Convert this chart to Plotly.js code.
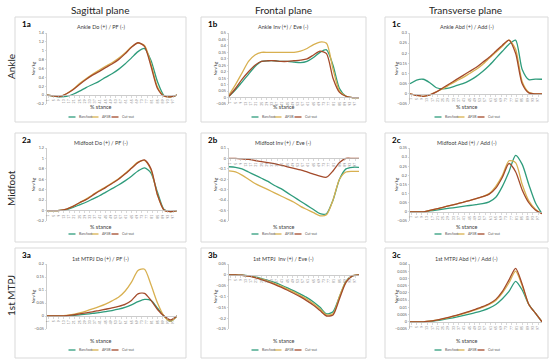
<!DOCTYPE html>
<html>
<head>
<meta charset="utf-8">
<script src="https://cdn.plot.ly/plotly-3.0.1.min.js"></script>
<style>html,body{margin:0;padding:0;background:#fff;}#chart{width:550px;height:362px;}</style>
</head>
<body>
<div id="chart"></div>
<script>
// ---------- DATA ----------
const stance = [0,5,10,15,20,25,30,35,40,45,50,55,60,65,70,75,80,85,90,95,100];
const seriesNames = ['Barefoot','AFSB','Cut-out'];
const seriesColors = ['#2f9c7c','#d8b050','#a34a2a'];
const xTickVals = [1,5,9,13,17,21,25,29,33,37,41,45,49,53,57,61,65,69,73,77,81,85,89,93,97];

// 1a Ankle Do (+) / PF (-)
const ankleSagBarefoot = [0,-0.02,-0.04,-0.03,0.02,0.09,0.17,0.24,0.31,0.4,0.48,0.58,0.7,0.84,0.98,1.05,0.78,0.3,-0.01,-0.04,0];
const ankleSagAFSB     = [0,-0.02,-0.03,0.03,0.13,0.26,0.37,0.47,0.56,0.65,0.73,0.83,0.95,1.09,1.17,1.12,0.7,0.18,-0.02,-0.04,0];
const ankleSagCutout   = [0,-0.02,-0.03,0.03,0.12,0.24,0.35,0.45,0.53,0.62,0.7,0.8,0.93,1.08,1.18,1.1,0.65,0.15,-0.02,-0.04,0];
// 1b Ankle Inv (+) / Eve (-)
const ankleFroBarefoot = [0.01,0.06,0.12,0.18,0.24,0.28,0.285,0.285,0.28,0.28,0.275,0.27,0.28,0.31,0.35,0.37,0.25,0.07,0.01,0,0];
const ankleFroAFSB     = [0.02,0.1,0.19,0.28,0.33,0.35,0.35,0.35,0.35,0.35,0.35,0.36,0.38,0.41,0.43,0.42,0.22,0.05,0.01,0,0];
const ankleFroCutout   = [0.01,0.07,0.14,0.2,0.25,0.28,0.285,0.285,0.28,0.28,0.285,0.29,0.3,0.33,0.36,0.34,0.15,0.04,0.01,0,0];
// 1c Ankle Abd (+) / Add (-)
const ankleTraBarefoot = [0.05,0.068,0.072,0.055,0.03,0.025,0.03,0.04,0.05,0.065,0.085,0.11,0.14,0.175,0.21,0.245,0.265,0.12,0.07,0.073,0.072];
const ankleTraAFSB     = [0,-0.008,-0.012,-0.005,0.01,0.025,0.045,0.063,0.08,0.1,0.12,0.145,0.175,0.205,0.235,0.265,0.22,0.06,0.008,0,0];
const ankleTraCutout   = [0,-0.008,-0.012,-0.005,0.01,0.03,0.05,0.07,0.09,0.11,0.13,0.155,0.18,0.21,0.24,0.265,0.2,0.05,0.005,0,0];
// 2a Midfoot Do (+) / PF (-)
const midSagBarefoot = [0,0,0.005,0.02,0.06,0.11,0.16,0.22,0.28,0.35,0.42,0.49,0.57,0.66,0.76,0.82,0.72,0.35,0.02,-0.02,0];
const midSagAFSB     = [0,0,0.005,0.03,0.08,0.15,0.22,0.3,0.38,0.45,0.53,0.61,0.71,0.82,0.93,0.96,0.78,0.3,0.01,-0.02,0];
const midSagCutout   = [0,0,0.005,0.03,0.08,0.15,0.21,0.29,0.37,0.44,0.52,0.6,0.7,0.81,0.92,0.97,0.8,0.3,0.01,-0.02,0];
// 2b Midfoot Inv (+) / Eve (-)
const midFroBarefoot = [-0.08,-0.085,-0.1,-0.13,-0.16,-0.19,-0.22,-0.26,-0.29,-0.33,-0.37,-0.41,-0.45,-0.49,-0.53,-0.53,-0.4,-0.2,-0.1,-0.085,-0.085];
const midFroAFSB     = [-0.12,-0.13,-0.16,-0.2,-0.24,-0.27,-0.3,-0.33,-0.36,-0.39,-0.42,-0.46,-0.49,-0.52,-0.55,-0.54,-0.4,-0.2,-0.13,-0.125,-0.125];
const midFroCutout   = [0,0,-0.005,-0.01,-0.02,-0.03,-0.04,-0.05,-0.065,-0.08,-0.095,-0.11,-0.13,-0.15,-0.17,-0.18,-0.12,-0.04,0,0,0];
// 2c Midfoot Abd (+) / Add (-)
const midTraBarefoot = [0,0,0,0.005,0.01,0.015,0.02,0.025,0.03,0.035,0.04,0.045,0.055,0.08,0.14,0.22,0.31,0.26,0.15,0.05,-0.01];
const midTraAFSB     = [0,0,0,0.008,0.016,0.025,0.034,0.043,0.052,0.062,0.072,0.083,0.1,0.14,0.2,0.28,0.27,0.15,0.06,0.015,-0.01];
const midTraCutout   = [0,0,0,0.008,0.016,0.025,0.034,0.043,0.052,0.062,0.072,0.083,0.097,0.13,0.19,0.265,0.22,0.12,0.05,0.01,-0.01];
// 3a 1st MTPJ Do (+) / PF (-)
const mtpSagBarefoot = [0,0,0,0.001,0.002,0.004,0.007,0.01,0.013,0.017,0.021,0.026,0.033,0.043,0.055,0.064,0.06,0.03,0,-0.02,0];
const mtpSagAFSB     = [0,0,0,0.002,0.006,0.012,0.019,0.027,0.036,0.046,0.058,0.072,0.095,0.13,0.175,0.18,0.12,0.05,0,-0.02,0];
const mtpSagCutout   = [0,0,0,0.001,0.004,0.008,0.012,0.016,0.021,0.026,0.031,0.037,0.045,0.06,0.085,0.087,0.06,0.025,0,-0.015,0];
// 3b 1st MTPJ Inv (+) / Eve (-)
const mtpFroBarefoot = [0,0,-0.002,-0.005,-0.01,-0.017,-0.025,-0.035,-0.047,-0.06,-0.074,-0.089,-0.105,-0.125,-0.15,-0.18,-0.17,-0.1,-0.03,-0.005,0];
const mtpFroAFSB     = [0,0,-0.002,-0.006,-0.012,-0.02,-0.029,-0.04,-0.052,-0.066,-0.08,-0.096,-0.113,-0.133,-0.158,-0.185,-0.18,-0.1,-0.03,-0.004,0];
const mtpFroCutout   = [0,0,-0.002,-0.006,-0.013,-0.022,-0.032,-0.044,-0.057,-0.071,-0.086,-0.102,-0.12,-0.14,-0.165,-0.19,-0.185,-0.11,-0.035,-0.005,0];
// 3c 1st MTPJ Abd (+) / Add (-)
const mtpTraBarefoot = [0,0,0,0.0003,0.0008,0.0015,0.0023,0.0032,0.0042,0.0053,0.0065,0.0078,0.0095,0.012,0.016,0.021,0.028,0.022,0.012,0.006,0];
const mtpTraAFSB     = [0,0,0,0.0004,0.0011,0.002,0.003,0.0042,0.0055,0.0069,0.0084,0.01,0.012,0.0148,0.02,0.027,0.035,0.025,0.012,0.006,0];
const mtpTraCutout   = [0,0,0,0.0004,0.0012,0.0022,0.0033,0.0045,0.0058,0.0072,0.0088,0.0105,0.0125,0.0155,0.021,0.029,0.037,0.026,0.012,0.006,0];

const columnTitles = ['Sagittal plane','Frontal plane','Transverse plane'];
const rowTitles = ['Ankle','Midfoot','1st MTPJ'];

const panels = [
  {id:'1a', title:'Ankle Do (+) / PF (-)',      r:0,c:0, range:[-0.2,1.4],  dtick:0.2,   data:[ankleSagBarefoot,ankleSagAFSB,ankleSagCutout]},
  {id:'1b', title:'Ankle Inv (+) / Eve (-)',    r:0,c:1, range:[-0.05,0.5], dtick:0.05,  data:[ankleFroBarefoot,ankleFroAFSB,ankleFroCutout]},
  {id:'1c', title:'Ankle Abd (+) / Add (-)',    r:0,c:2, range:[-0.05,0.3], dtick:0.05,  data:[ankleTraBarefoot,ankleTraAFSB,ankleTraCutout]},
  {id:'2a', title:'Midfoot Do (+) / PF (-)',    r:1,c:0, range:[-0.2,1.2],  dtick:0.2,   data:[midSagBarefoot,midSagAFSB,midSagCutout]},
  {id:'2b', title:'Midfoot Inv (+) / Eve (-)',  r:1,c:1, range:[-0.6,0.1],  dtick:0.1,   data:[midFroBarefoot,midFroAFSB,midFroCutout]},
  {id:'2c', title:'Midfoot Abd (+) / Add (-)',  r:1,c:2, range:[-0.05,0.35],dtick:0.05,  data:[midTraBarefoot,midTraAFSB,midTraCutout]},
  {id:'3a', title:'1st MTPJ Do (+) / PF (-)',   r:2,c:0, range:[-0.05,0.2], dtick:0.05,  data:[mtpSagBarefoot,mtpSagAFSB,mtpSagCutout]},
  {id:'3b', title:'1st MTPJ  Inv (+) / Eve (-)',r:2,c:1, range:[-0.25,0.05],dtick:0.05,  data:[mtpFroBarefoot,mtpFroAFSB,mtpFroCutout]},
  {id:'3c', title:'1st MTPJ Abd (+) / Add (-)', r:2,c:2, range:[-0.005,0.04],dtick:0.005,data:[mtpTraBarefoot,mtpTraAFSB,mtpTraCutout]}
];

// ---------- LAYOUT GEOMETRY (pixels) ----------
const W = 550, H = 362;
const colPlot = [[47,177],[229,359],[410,542]];
const rowPlot = [[33,104],[148,221],[264,329]];
const colBox = [[15,186],[201,366],[385,548]];
const rowBox = [[17,122],[133,242],[248,358]];
const titleY = [27,143,259];
const stanceY = [107,227,341];
const legendY = [117,234,350];
const px = x => x / W;
const py = y => 1 - y / H;
const FONT = 'Lato, "Open Sans", sans-serif';

const traces = [];
const layout = {
  width: W, height: H,
  margin: {l:0,r:0,t:0,b:0},
  paper_bgcolor: '#ffffff', plot_bgcolor: 'rgba(0,0,0,0)',
  showlegend: false,
  font: {family: FONT, color: '#404040'},
  annotations: [], shapes: []
};

panels.forEach((p, i) => {
  const k = i + 1;
  const xs = k === 1 ? '' : String(k);
  const xd = [px(colPlot[p.c][0]), px(colPlot[p.c][1])];
  const yd = [py(rowPlot[p.r][1]), py(rowPlot[p.r][0])];
  const zeroPos = yd[0] + (0 - p.range[0]) / (p.range[1] - p.range[0]) * (yd[1] - yd[0]);

  p.data.forEach((vals, s) => {
    traces.push({
      x: stance, y: vals, type: 'scatter', mode: 'lines',
      name: seriesNames[s], xaxis: 'x' + xs, yaxis: 'y' + xs,
      line: {color: seriesColors[s], width: 1.3, shape: 'spline', smoothing: 0.7},
      hoverinfo: 'skip'
    });
  });

  layout['xaxis' + xs] = {
    domain: xd, range: [0, 100], anchor: 'free', position: zeroPos,
    tickmode: 'array', tickvals: xTickVals, ticktext: xTickVals.map(String),
    tickangle: -90, tickfont: {size: 3.5, color: '#7f7f7f', family: FONT},
    showline: true, linecolor: '#bfbfbf', linewidth: 0.8,
    ticks: 'outside', ticklen: 2, tickcolor: '#bfbfbf', tickwidth: 0.6,
    showgrid: false, zeroline: false, fixedrange: true
  };
  layout['yaxis' + xs] = {
    domain: yd, range: p.range, tick0: 0, dtick: p.dtick, anchor: 'x' + xs,
    tickfont: {size: 3.8, color: '#595959', family: FONT},
    showline: true, linecolor: '#bfbfbf', linewidth: 0.8,
    ticks: 'outside', ticklen: 1.5, tickcolor: '#bfbfbf', tickwidth: 0.6,
    showgrid: false, zeroline: false, fixedrange: true
  };

  const bx = colBox[p.c], by = rowBox[p.r];
  layout.shapes.push({type:'rect', xref:'paper', yref:'paper',
    x0: px(bx[0]), x1: px(bx[1]), y0: py(by[1]), y1: py(by[0]),
    line: {color:'#d9d9d9', width: 1}});

  const cx = (bx[0] + bx[1]) / 2;
  layout.annotations.push({text: '<b>' + p.id + '</b>', xref:'paper', yref:'paper',
    x: px(bx[0] + 5), y: py(by[0] + 7), xanchor:'left', yanchor:'middle', showarrow:false,
    font:{size:8, color:'#000', family: FONT}});
  layout.annotations.push({text: p.title, xref:'paper', yref:'paper',
    x: px(cx), y: py(titleY[p.r]), xanchor:'center', yanchor:'middle', showarrow:false,
    font:{size:5.5, color:'#404040', family: FONT}});
  layout.annotations.push({text: 'Nm/kg', xref:'paper', yref:'paper', textangle:-90,
    x: px(colPlot[p.c][0] - 14), y: py((rowPlot[p.r][0] + rowPlot[p.r][1]) / 2),
    xanchor:'center', yanchor:'middle', showarrow:false,
    font:{size:4.5, color:'#404040', family: FONT}});
  layout.annotations.push({text: '% stance', xref:'paper', yref:'paper',
    x: px(cx), y: py(stanceY[p.r]), xanchor:'center', yanchor:'middle', showarrow:false,
    font:{size:5.5, color:'#404040', family: FONT}});
  const lineStart = [-32, -9, 11];
  seriesNames.forEach((nm, s) => {
    const lx = cx + lineStart[s];
    layout.shapes.push({type:'line', xref:'paper', yref:'paper',
      x0: px(lx), x1: px(lx + 7), y0: py(legendY[p.r]), y1: py(legendY[p.r]),
      line:{color: seriesColors[s], width: 1.3}});
    layout.annotations.push({text: nm, xref:'paper', yref:'paper',
      x: px(lx + 8), y: py(legendY[p.r]), xanchor:'left', yanchor:'middle', showarrow:false,
      font:{size:3.5, color:'#595959', family: FONT}});
  });
});

const colTitleX = [100, 283, 465];
columnTitles.forEach((t, c) => {
  layout.annotations.push({text: t, xref:'paper', yref:'paper',
    x: px(colTitleX[c]), y: py(10), xanchor:'center', yanchor:'middle', showarrow:false,
    font:{size:10, color:'#262626', family: FONT}});
});
const rowTitleY = [67, 188, 296];
rowTitles.forEach((t, r) => {
  layout.annotations.push({text: t, xref:'paper', yref:'paper', textangle:-90,
    x: px(11), y: py(rowTitleY[r]), xanchor:'center', yanchor:'middle', showarrow:false,
    font:{size:10, color:'#262626', family: FONT}});
});

Plotly.newPlot('chart', traces, layout, {staticPlot: true, displayModeBar: false});
</script>
</body>
</html>
